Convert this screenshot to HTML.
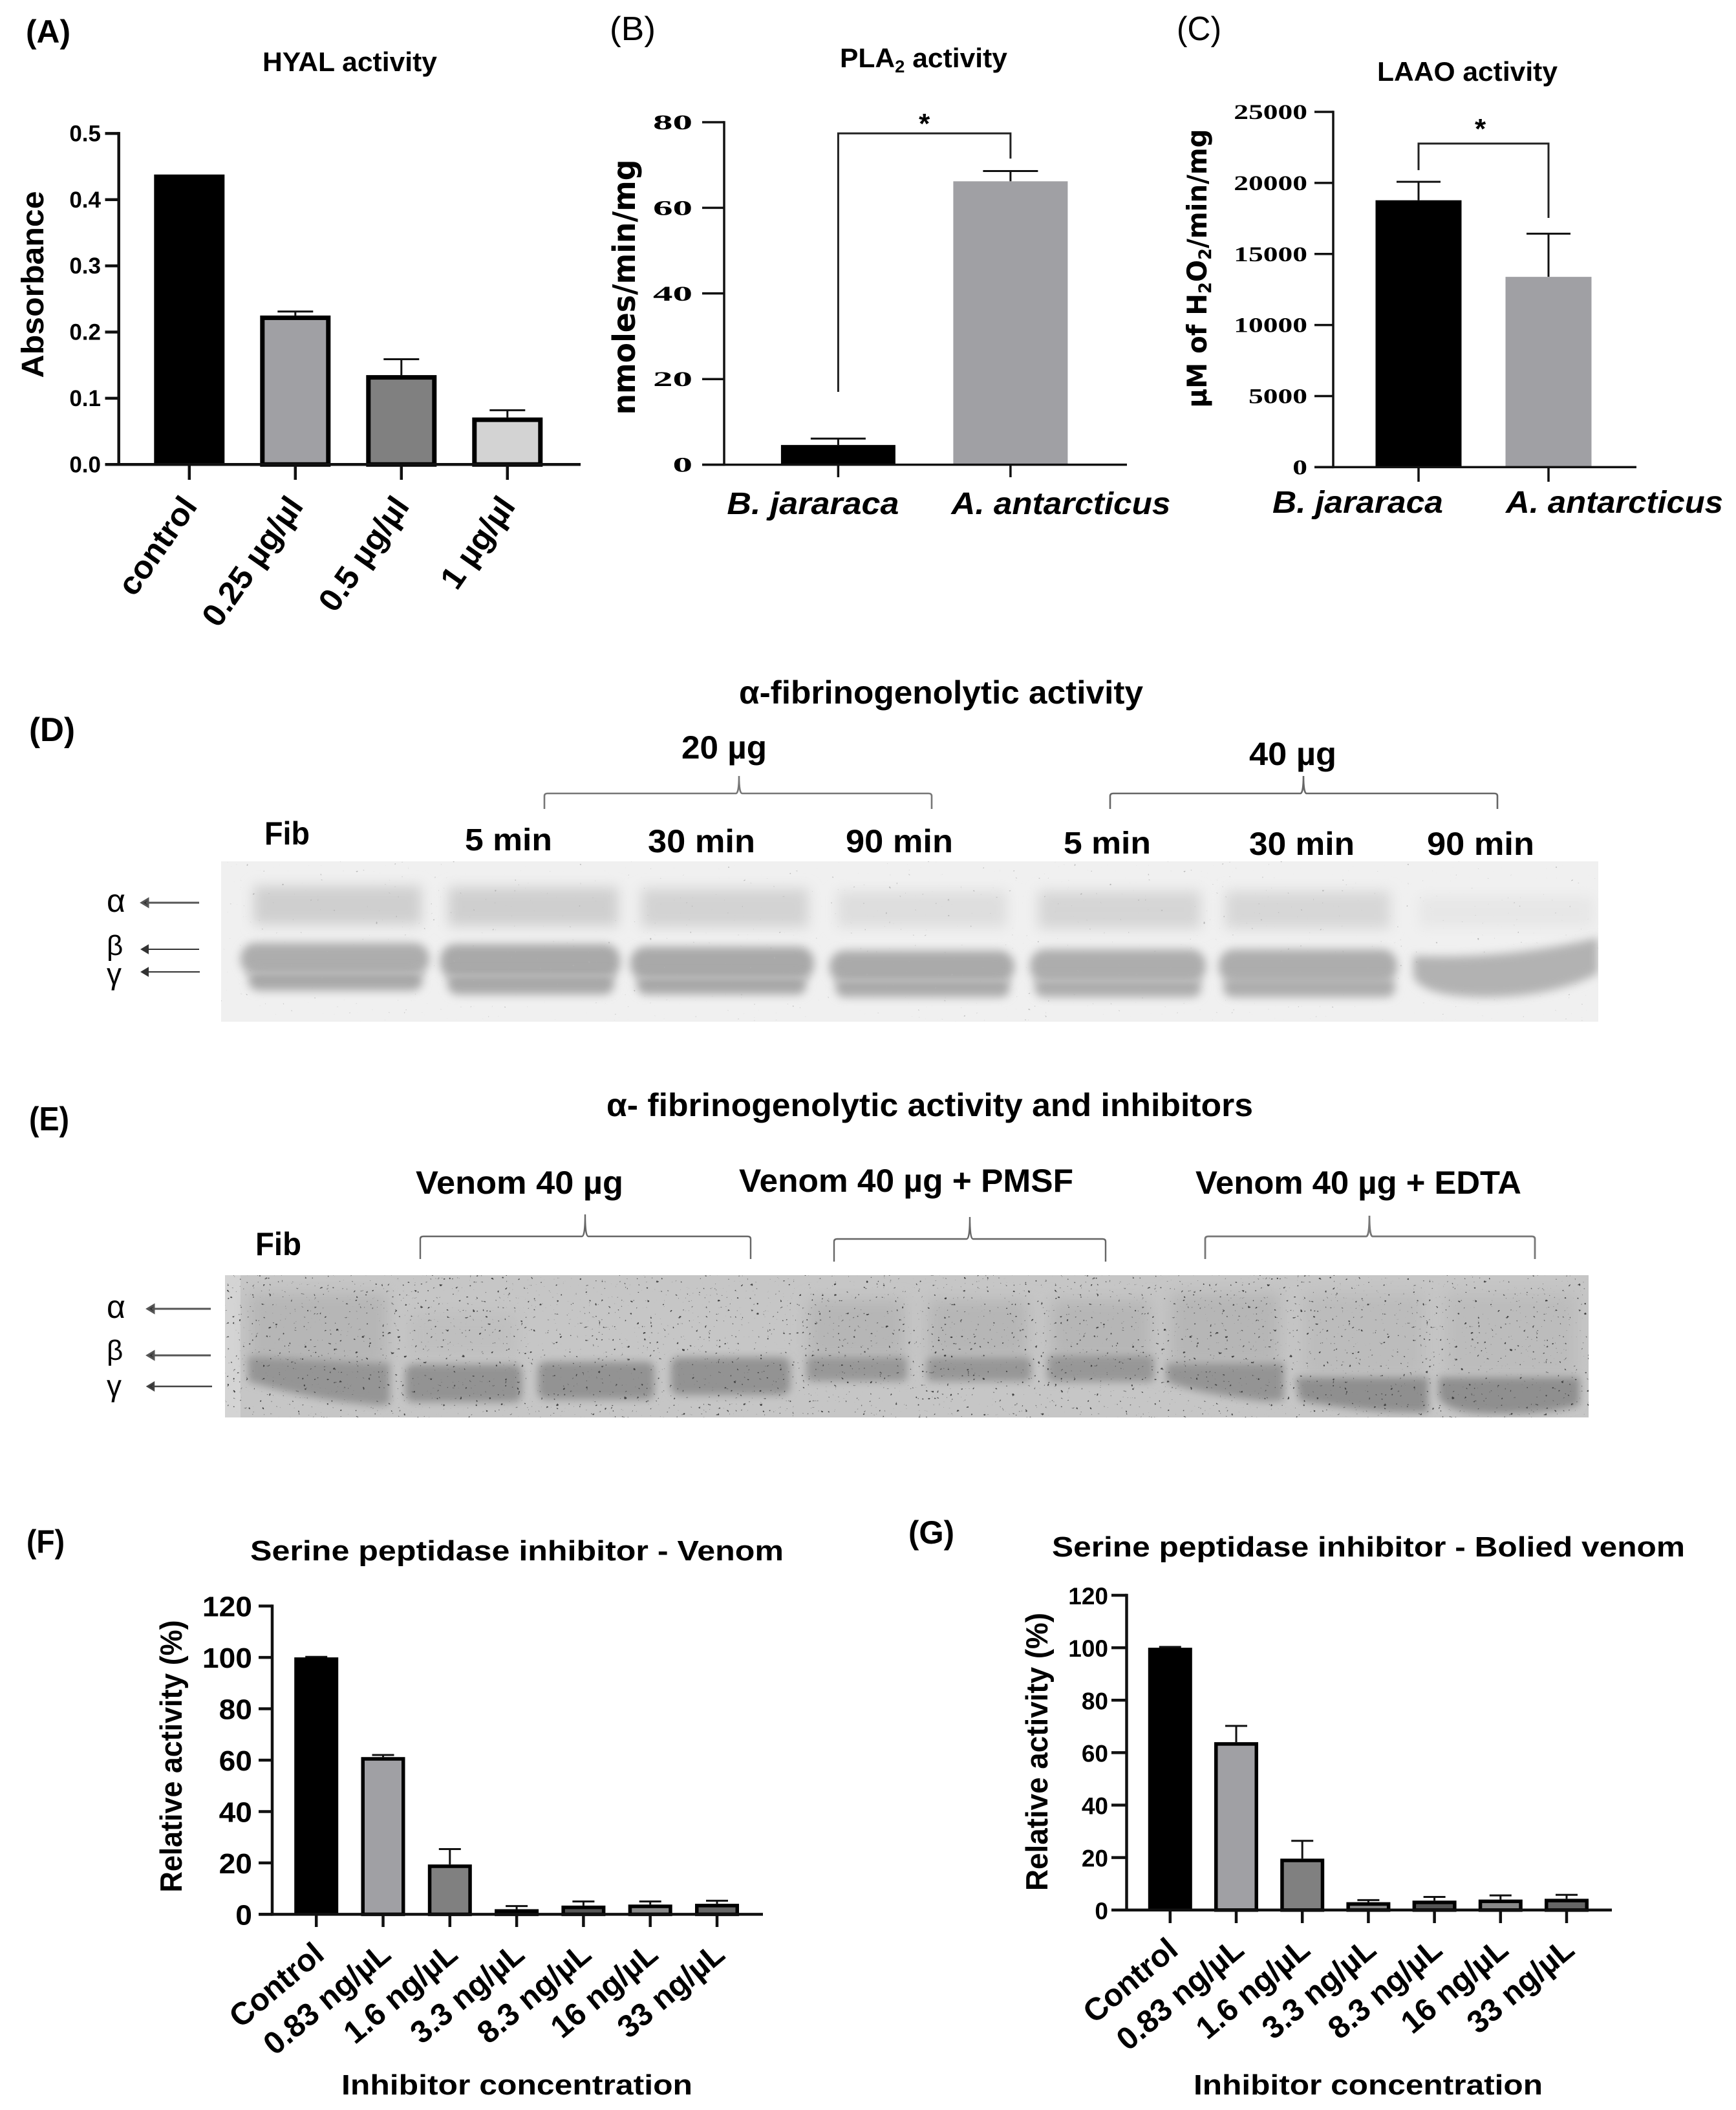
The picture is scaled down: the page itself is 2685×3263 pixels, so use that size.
<!DOCTYPE html>
<html lang="en">
<head>
<meta charset="utf-8">
<title>Venom activity figure</title>
<style>
html,body{margin:0;padding:0;background:#fff;}
svg{display:block;}
text{font-family:"Liberation Sans",sans-serif;fill:#000;}
.b{font-weight:700;}
</style>
</head>
<body>
<svg id="figure" xmlns="http://www.w3.org/2000/svg" width="2685" height="3263" viewBox="0 0 2685 3263">
<defs>
  <filter id="blurDa" filterUnits="userSpaceOnUse" x="300" y="1300" width="2220" height="320"><feGaussianBlur stdDeviation="10"/></filter>
  <filter id="blurD" filterUnits="userSpaceOnUse" x="300" y="1300" width="2220" height="320"><feGaussianBlur stdDeviation="7"/></filter>
  <filter id="blurDs" filterUnits="userSpaceOnUse" x="300" y="1300" width="2220" height="320"><feGaussianBlur stdDeviation="3.5"/></filter>
  <filter id="blurE" filterUnits="userSpaceOnUse" x="300" y="1940" width="2200" height="290"><feGaussianBlur stdDeviation="6"/></filter>
  <filter id="blurEw" filterUnits="userSpaceOnUse" x="300" y="1940" width="2200" height="290"><feGaussianBlur stdDeviation="12"/></filter>
  <filter id="speckle" x="0" y="0" width="100%" height="100%" color-interpolation-filters="sRGB">
    <feTurbulence type="fractalNoise" baseFrequency="0.2" numOctaves="2" seed="11"/>
    <feColorMatrix type="matrix" values="0 0 0 0 0.25  0 0 0 0 0.25  0 0 0 0 0.25  14 0 0 0 -10.2"/>
  </filter>
  <filter id="speckleFaint" x="0" y="0" width="100%" height="100%" color-interpolation-filters="sRGB">
    <feTurbulence type="fractalNoise" baseFrequency="0.2" numOctaves="2" seed="4"/>
    <feColorMatrix type="matrix" values="0 0 0 0 0.7  0 0 0 0 0.7  0 0 0 0 0.7  12 0 0 0 -9.4"/>
  </filter>
  <clipPath id="clipD"><rect x="342" y="1332" width="2130" height="248"/></clipPath>
  <clipPath id="clipE"><rect x="348" y="1972" width="2109" height="220"/></clipPath>
</defs>

<!-- panel letters and titles -->
<text class="b" x="40" y="66" font-size="50" textLength="69" lengthAdjust="spacingAndGlyphs">(A)</text>
<text class="b" x="406" y="110" font-size="42" textLength="270" lengthAdjust="spacingAndGlyphs">HYAL activity</text>
<text class="b" transform="translate(67 440) rotate(-90)" text-anchor="middle" font-size="48" textLength="289" lengthAdjust="spacingAndGlyphs">Absorbance</text>

<text x="943" y="62" font-size="52" textLength="71" lengthAdjust="spacingAndGlyphs">(B)</text>
<text class="b" x="1299" y="104" font-size="42" textLength="259" lengthAdjust="spacingAndGlyphs">PLA<tspan font-size="27" dy="8">2</tspan><tspan dy="-8"> activity</tspan></text>
<text transform="translate(982 444) rotate(-90)" text-anchor="middle" font-size="48" font-weight="700" style="font-family:'DejaVu Sans',sans-serif" textLength="395" lengthAdjust="spacingAndGlyphs">nmoles/min/mg</text>

<text x="1820" y="62" font-size="52" textLength="69" lengthAdjust="spacingAndGlyphs">(C)</text>
<text class="b" x="2130" y="125" font-size="42" textLength="279" lengthAdjust="spacingAndGlyphs">LAAO activity</text>
<text transform="translate(1866 415) rotate(-90)" text-anchor="middle" font-size="42" font-weight="700" style="font-family:'DejaVu Sans',sans-serif" textLength="431" lengthAdjust="spacingAndGlyphs">µM of H<tspan font-size="27" dy="7">2</tspan><tspan dy="-7">O</tspan><tspan font-size="27" dy="7">2</tspan><tspan dy="-7">/min/mg</tspan></text>

<!-- section D text -->
<text class="b" x="1143" y="1088" font-size="50" textLength="625" lengthAdjust="spacingAndGlyphs">α-fibrinogenolytic activity</text>
<text class="b" x="45" y="1146" font-size="52" textLength="71" lengthAdjust="spacingAndGlyphs">(D)</text>
<text class="b" x="1054" y="1173" font-size="50" textLength="132" lengthAdjust="spacingAndGlyphs">20 µg</text>
<text class="b" x="1932" y="1183" font-size="50" textLength="135" lengthAdjust="spacingAndGlyphs">40 µg</text>
<path d="M842 1251 L842 1231 Q842 1227 847 1227 L1138 1227 Q1143 1227 1143 1200 Q1143 1227 1148 1227 L1436 1227 Q1441 1227 1441 1231 L1441 1251" fill="none" stroke="#777" stroke-width="2.6"/>
<path d="M1717 1251 L1717 1231 Q1717 1227 1722 1227 L2011 1227 Q2016 1227 2016 1200 Q2016 1227 2021 1227 L2311 1227 Q2316 1227 2316 1231 L2316 1251" fill="none" stroke="#666" stroke-width="2.6"/>
<text class="b" x="409" y="1306" font-size="50" textLength="70" lengthAdjust="spacingAndGlyphs">Fib</text>
<text class="b" x="719" y="1315" font-size="48" textLength="135" lengthAdjust="spacingAndGlyphs">5 min</text>
<text class="b" x="1002" y="1318" font-size="50" textLength="166" lengthAdjust="spacingAndGlyphs">30 min</text>
<text class="b" x="1308" y="1318" font-size="50" textLength="166" lengthAdjust="spacingAndGlyphs">90 min</text>
<text class="b" x="1645" y="1320" font-size="48" textLength="135" lengthAdjust="spacingAndGlyphs">5 min</text>
<text class="b" x="1932" y="1322" font-size="50" textLength="163" lengthAdjust="spacingAndGlyphs">30 min</text>
<text class="b" x="2207" y="1322" font-size="50" textLength="166" lengthAdjust="spacingAndGlyphs">90 min</text>

<text x="165" y="1410" font-size="50">α</text>
<text x="165" y="1477" font-size="44">β</text>
<text x="165" y="1522" font-size="46">γ</text>
<path d="M308 1396 H226 M219 1396 L229 1390 V1402 Z" stroke="#555" stroke-width="3" fill="#333"/>
<path d="M308 1468 H226 M219 1468 L229 1462 V1474 Z" stroke="#333" stroke-width="2" fill="#333"/>
<path d="M309 1503 H226 M219 1503 L229 1497 V1509 Z" stroke="#333" stroke-width="2" fill="#333"/>

<!-- gel D -->
<g clip-path="url(#clipD)">
  <rect x="342" y="1332" width="2130" height="248" fill="#f0f0f0"/>
  <g filter="url(#blurDa)">
    <rect x="392" y="1370" width="260" height="60" fill="#cfcfcf"/>
    <rect x="693" y="1372" width="263" height="60" fill="#cfcfcf"/>
    <rect x="992" y="1374" width="258" height="60" fill="#d3d3d3"/>
    <rect x="1295" y="1378" width="262" height="56" fill="#dedede"/>
    <rect x="1606" y="1378" width="251" height="58" fill="#d5d5d5"/>
    <rect x="1895" y="1378" width="255" height="58" fill="#d7d7d7"/>
    <rect x="2195" y="1386" width="270" height="48" fill="#e7e7e7"/>
  </g>
  <g filter="url(#blurD)">
    <rect x="372" y="1458" width="292" height="50" rx="24" fill="#adadad"/>
    <rect x="681" y="1460" width="278" height="54" rx="24" fill="#a9a9a9"/>
    <rect x="975" y="1464" width="284" height="52" rx="24" fill="#a9a9a9"/>
    <rect x="1283" y="1470" width="286" height="50" rx="24" fill="#aaaaaa"/>
    <rect x="1593" y="1468" width="272" height="52" rx="24" fill="#adadad"/>
    <rect x="1885" y="1468" width="276" height="52" rx="24" fill="#adadad"/>
  </g>
  <g filter="url(#blurD)">
    <rect x="384" y="1500" width="270" height="32" rx="16" fill="#a9a9a9"/>
    <rect x="692" y="1504" width="258" height="34" rx="16" fill="#a9a9a9"/>
    <rect x="985" y="1508" width="262" height="30" rx="14" fill="#a8a8a8"/>
    <rect x="1292" y="1512" width="270" height="30" rx="14" fill="#aaaaaa"/>
    <rect x="1600" y="1512" width="258" height="30" rx="14" fill="#adadad"/>
    <rect x="1892" y="1512" width="266" height="30" rx="14" fill="#adadad"/>
    <path d="M2186 1478 Q2330 1484 2472 1450 V1505 Q2400 1542 2300 1542 Q2200 1542 2186 1510 Z" fill="#b2b2b2"/>
  </g>
  <g filter="url(#blurDs)" fill="#c2c2c2" opacity="0.55">
    <rect x="378" y="1503" width="280" height="4"/>
    <rect x="690" y="1507" width="262" height="4"/>
    <rect x="985" y="1510" width="268" height="4"/>
    <rect x="1293" y="1514" width="270" height="4"/>
    <rect x="1600" y="1515" width="258" height="4"/>
  </g>
  <rect x="342" y="1332" width="2130" height="248" filter="url(#speckleFaint)"/>
</g>

<!-- section E text -->
<text class="b" x="938" y="1726" font-size="50" textLength="1000" lengthAdjust="spacingAndGlyphs">α- fibrinogenolytic activity and inhibitors</text>
<text class="b" x="45" y="1748" font-size="52" textLength="62" lengthAdjust="spacingAndGlyphs">(E)</text>
<text class="b" x="643" y="1846" font-size="50" textLength="321" lengthAdjust="spacingAndGlyphs">Venom 40 µg</text>
<text class="b" x="1143" y="1843" font-size="50" textLength="517" lengthAdjust="spacingAndGlyphs">Venom 40 µg + PMSF</text>
<text class="b" x="1849" y="1846" font-size="50" textLength="504" lengthAdjust="spacingAndGlyphs">Venom 40 µg + EDTA</text>
<text class="b" x="395" y="1941" font-size="50" textLength="71" lengthAdjust="spacingAndGlyphs">Fib</text>
<path d="M650 1947 L650 1916 Q650 1912 655 1912 L900 1912 Q905 1912 905 1878 Q905 1912 910 1912 L1156 1912 Q1161 1912 1161 1916 L1161 1947" fill="none" stroke="#666" stroke-width="2.4"/>
<path d="M1290 1951 L1290 1920 Q1290 1916 1295 1916 L1495 1916 Q1500 1916 1500 1882 Q1500 1916 1505 1916 L1705 1916 Q1710 1916 1710 1920 L1710 1951" fill="none" stroke="#666" stroke-width="2.4"/>
<path d="M1864 1947 L1864 1916 Q1864 1912 1869 1912 L2113 1912 Q2118 1912 2118 1880 Q2118 1912 2123 1912 L2369 1912 Q2374 1912 2374 1916 L2374 1947" fill="none" stroke="#777" stroke-width="2.8"/>
<text x="165" y="2038" font-size="50">α</text>
<text x="165" y="2103" font-size="44">β</text>
<text x="165" y="2159" font-size="46">γ</text>
<path d="M326 2024 H235 M228 2024 L238 2018 V2030 Z" stroke="#555" stroke-width="3" fill="#333"/>
<path d="M326 2096 H235 M228 2096 L238 2090 V2102 Z" stroke="#555" stroke-width="3" fill="#333"/>
<path d="M328 2144 H235 M228 2144 L238 2138 V2150 Z" stroke="#444" stroke-width="2.4" fill="#333"/>

<!-- gel E -->
<g clip-path="url(#clipE)">
  <rect x="348" y="1972" width="2109" height="220" fill="#c6c6c6"/>
  <rect x="348" y="1972" width="24" height="220" fill="#d4d4d4"/>
  <g filter="url(#blurEw)" fill="#b6b6b6">
    <rect x="385" y="2000" width="215" height="110"/>
    <rect x="630" y="2030" width="170" height="70" fill="#bfbfbf"/>
    <rect x="1250" y="2010" width="150" height="90"/>
    <rect x="1435" y="2010" width="155" height="90"/>
    <rect x="1625" y="2010" width="155" height="90"/>
    <rect x="1810" y="2000" width="170" height="110"/>
    <rect x="2015" y="2000" width="190" height="130" fill="#bcbcbc"/>
    <rect x="2235" y="2000" width="205" height="130" fill="#bcbcbc"/>
  </g>
  <g filter="url(#blurE)">
    <path d="M384 2098 L603 2108 L603 2168 Q600 2176 570 2172 Q480 2165 384 2136 Z" fill="#959595"/>
    <rect x="627" y="2110" width="180" height="58" rx="12" fill="#939393"/>
    <rect x="832" y="2106" width="180" height="58" rx="12" fill="#939393"/>
    <rect x="1038" y="2099" width="184" height="58" rx="12" fill="#939393"/>
    <rect x="1247" y="2098" width="156" height="38" rx="8" fill="#989898"/>
    <rect x="1433" y="2099" width="162" height="37" rx="8" fill="#979797"/>
    <rect x="1620" y="2096" width="165" height="41" rx="8" fill="#979797"/>
    <path d="M1804 2108 H1986 V2164 Q1970 2170 1930 2164 Q1840 2152 1804 2136 Z" fill="#949494"/>
    <path d="M2004 2130 H2209 V2184 Q2120 2186 2010 2166 Z" fill="#8f8f8f"/>
    <path d="M2225 2130 H2443 V2172 Q2400 2188 2300 2186 Q2235 2184 2225 2160 Z" fill="#8f8f8f"/>
  </g>
  <rect x="348" y="1972" width="2109" height="220" filter="url(#speckle)"/>
</g>

<!-- F and G text -->
<text class="b" x="41" y="2401" font-size="50" textLength="59" lengthAdjust="spacingAndGlyphs">(F)</text>
<text class="b" x="387" y="2413" font-size="44" textLength="825" lengthAdjust="spacingAndGlyphs">Serine peptidase inhibitor - Venom</text>
<text class="b" transform="translate(281 2716) rotate(-90)" text-anchor="middle" font-size="47" textLength="421" lengthAdjust="spacingAndGlyphs">Relative activity (%)</text>
<text class="b" x="528" y="3239" font-size="44" textLength="543" lengthAdjust="spacingAndGlyphs">Inhibitor concentration</text>
<text class="b" x="1405" y="2387" font-size="50" textLength="71" lengthAdjust="spacingAndGlyphs">(G)</text>
<text class="b" x="1627" y="2407" font-size="44" textLength="979" lengthAdjust="spacingAndGlyphs">Serine peptidase inhibitor - Bolied venom</text>
<text class="b" transform="translate(1620 2709) rotate(-90)" text-anchor="middle" font-size="47" textLength="430" lengthAdjust="spacingAndGlyphs">Relative activity (%)</text>
<text class="b" x="1846" y="3239" font-size="44" textLength="540" lengthAdjust="spacingAndGlyphs">Inhibitor concentration</text>

<g id="charts"></g>
</svg>

<script>
const hyalCategories = ['control', '0.25 µg/µl', '0.5 µg/µl', '1 µg/µl'];
const hyalValues = [0.438, 0.225, 0.135, 0.071];
const hyalErrors = [0.438, 0.231, 0.159, 0.082];
const hyalTicks = [0, 0.1, 0.2, 0.3, 0.4, 0.5];
const hyalTickLabels = ['0.0', '0.1', '0.2', '0.3', '0.4', '0.5'];

const plaCategories = ['B. jararaca', 'A. antarcticus'];
const plaValues = [4.6, 66.2];
const plaErrors = [6.1, 68.6];
const plaTicks = [0, 20, 40, 60, 80];
const plaTickLabels = ['0', '20', '40', '60', '80'];
const plaBracket = [17, 77.4, 71.5];

const laaoCategories = ['B. jararaca', 'A. antarcticus'];
const laaoValues = [18780, 13390];
const laaoErrors = [20080, 16430];
const laaoTicks = [0, 5000, 10000, 15000, 20000, 25000];
const laaoTickLabels = ['0', '5000', '10000', '15000', '20000', '25000'];
const laaoBracket = [20900, 22770, 17540];

const venomCategories = ['Control', '0.83 ng/µL', '1.6 ng/µL', '3.3 ng/µL', '8.3 ng/µL', '16 ng/µL', '33 ng/µL'];
const venomValues = [100, 61.2, 19.4, 2, 3.4, 3.8, 4.1];
const venomErrors = [100.2, 62, 25.4, 3.2, 5, 5, 5.3];
const venomTicks = [0, 20, 40, 60, 80, 100, 120];
const venomTickLabels = ['0', '20', '40', '60', '80', '100', '120'];

const boiledCategories = ['Control', '0.83 ng/µL', '1.6 ng/µL', '3.3 ng/µL', '8.3 ng/µL', '16 ng/µL', '33 ng/µL'];
const boiledValues = [100, 64, 19.6, 3, 3.6, 4, 4.3];
const boiledErrors = [100.3, 70.2, 26.4, 3.8, 5, 5.6, 5.8];
const boiledTicks = [0, 20, 40, 60, 80, 100, 120];
const boiledTickLabels = ['0', '20', '40', '60', '80', '100', '120'];

const SVG_NS = 'http://www.w3.org/2000/svg';
const chartsRoot = document.getElementById('charts');

function mk(tag, attrs, parent) {
  const el = document.createElementNS(SVG_NS, tag);
  for (const k in attrs) el.setAttribute(k, attrs[k]);
  parent.appendChild(el);
  return el;
}

function slug(s) {
  return String(s).toLowerCase().replace(/µ/g, 'u').replace(/[^a-z0-9]+/g, '-').replace(/^-|-$/g, '');
}

function drawChart(c) {
  const g = mk('g', {}, chartsRoot);
  
  

  const yScale = v => c.y0 - (v / c.yMax) * (c.y0 - c.yTop);
  const xScale = i => c.first + i * c.step;

  c.errors.forEach((e, i) => {
    if (e <= c.values[i]) return;
    const stem = mk('line', {x1: xScale(i), x2: xScale(i), y1: yScale(c.values[i]), y2: yScale(e), stroke: '#111', 'stroke-width': c.errW}, g);
    
    
    const cap = mk('line', {x1: xScale(i) - c.capW / 2, x2: xScale(i) + c.capW / 2, y1: yScale(e), y2: yScale(e), stroke: '#111', 'stroke-width': c.errW}, g);
    
    
  });

  c.values.forEach((v, i) => {
    const sw = c.fills[i] === '#000' ? 0 : c.sw;
    const top = yScale(v);
    const h = Math.max(c.y0 - top - sw / 2, 1);
    const bar = mk('rect', {x: xScale(i) - c.barW / 2 + sw / 2, y: top + sw / 2, width: c.barW - sw, height: h, fill: c.fills[i], stroke: sw ? '#000' : 'none', 'stroke-width': sw}, g);
    
    
  });

  const yAxis = mk('line', {x1: c.ax, x2: c.ax, y1: c.yTop - c.axisW / 2, y2: c.y0 + c.axisW / 2, stroke: '#111', 'stroke-width': c.axisW}, g);
  
  
  const xAxis = mk('line', {x1: c.tickLeft, x2: c.axisEnd, y1: c.y0, y2: c.y0, stroke: '#111', 'stroke-width': c.axisW}, g);
  
  

  c.ticks.forEach((t, i) => {
    const tick = mk('line', {x1: c.tickLeft, x2: c.ax, y1: yScale(t), y2: yScale(t), stroke: '#111', 'stroke-width': c.axisW}, g);
    
    
    const lab = mk('text', {transform: 'translate(' + c.tickRight + ' ' + (yScale(t) + c.tickDy) + ') scale(' + c.tickSx + ' 1)', 'text-anchor': 'end', 'font-size': c.tickSize, 'font-weight': 700, style: 'font-family:' + c.tickFont}, g);
    lab.textContent = c.tickLabels[i];
    
    
  });

  c.cats.forEach((cat, i) => {
    const tick = mk('line', {x1: xScale(i), x2: xScale(i), y1: c.y0, y2: c.tickBottom, stroke: '#111', 'stroke-width': c.axisW}, g);
    
    
    let attrs;
    if (c.labelAngle) {
      attrs = {transform: 'translate(' + (xScale(i) + c.labelDx) + ' ' + c.labelY + ') rotate(' + c.labelAngle + ') scale(' + c.labelSx + ' 1)', 'text-anchor': 'end', 'font-size': c.labelSize, 'font-weight': 700};
    } else {
      attrs = {x: xScale(i) + c.labelOffsets[i], y: c.labelY, 'text-anchor': 'middle', 'font-size': c.labelSize, 'font-weight': 700, 'font-style': 'italic', textLength: c.labelWidths[i], lengthAdjust: 'spacingAndGlyphs'};
    }
    const lab = mk('text', attrs, g);
    lab.textContent = cat;
    
    
  });

  if (c.bracket) {
    const [leftEnd, topVal, rightEnd] = c.bracket;
    const d = 'M' + xScale(0) + ' ' + yScale(leftEnd) + ' V' + yScale(topVal) + ' H' + xScale(1) + ' V' + yScale(rightEnd);
    const br = mk('path', {d: d, fill: 'none', stroke: '#222', 'stroke-width': 3}, g);
    
    
    const star = mk('text', {x: (xScale(0) + xScale(1)) / 2 + c.starDx, y: yScale(topVal) + c.starDy, 'text-anchor': 'middle', 'font-size': 44, 'font-weight': 700}, g);
    star.textContent = '*';
    
    
  }
}

const SERIF = '"Liberation Serif",serif';
const SANS = '"Liberation Sans",sans-serif';

drawChart({id: 'hyal', cats: hyalCategories, values: hyalValues, errors: hyalErrors, ticks: hyalTicks, tickLabels: hyalTickLabels,
  ax: 183.7, y0: 718.3, yTop: 206.4, yMax: 0.5, first: 292.8, step: 164, tickLeft: 162.5, axisEnd: 898, tickBottom: 742,
  barW: 109, sw: 7, capW: 55, errW: 3, axisW: 4.5, fills: ['#000', '#a0a0a4', '#808080', '#d3d3d3'],
  tickRight: 156, tickDy: 12, tickSize: 35, tickSx: 1, tickFont: SANS,
  labelAngle: -55, labelDx: 14, labelY: 783, labelSize: 50, labelSx: 1.02});

drawChart({id: 'pla2', cats: plaCategories, values: plaValues, errors: plaErrors, ticks: plaTicks, tickLabels: plaTickLabels,
  ax: 1120, y0: 718.6, yTop: 189, yMax: 80, first: 1296.4, step: 266.5, tickLeft: 1086, axisEnd: 1743, tickBottom: 738,
  barW: 177, sw: 0, capW: 85, errW: 3, axisW: 3.5, fills: ['#000', '#a0a0a4'],
  tickRight: 1071, tickDy: 11, tickSize: 33, tickSx: 1.85, tickFont: SERIF,
  labelOffsets: [-39, 78], labelWidths: [266, 339], labelY: 795, labelSize: 48,
  bracket: plaBracket, starDx: 0, starDy: 0});

drawChart({id: 'laao', cats: laaoCategories, values: laaoValues, errors: laaoErrors, ticks: laaoTicks, tickLabels: laaoTickLabels,
  ax: 2062, y0: 722.4, yTop: 173, yMax: 25000, first: 2194, step: 201, tickLeft: 2033, axisEnd: 2531, tickBottom: 745,
  barW: 133, sw: 0, capW: 68, errW: 3, axisW: 3.5, fills: ['#000', '#a0a0a4'],
  tickRight: 2022, tickDy: 11, tickSize: 33, tickSx: 1.38, tickFont: SERIF,
  labelOffsets: [-94, 102], labelWidths: [264, 336], labelY: 793, labelSize: 48,
  bracket: laaoBracket, starDx: -5, starDy: -8});

drawChart({id: 'venom', cats: venomCategories, values: venomValues, errors: venomErrors, ticks: venomTicks, tickLabels: venomTickLabels,
  ax: 421, y0: 2960.4, yTop: 2483.6, yMax: 120, first: 489.2, step: 103.3, tickLeft: 400, axisEnd: 1180, tickBottom: 2980,
  barW: 68, sw: 5.5, capW: 34, errW: 3, axisW: 4.5, fills: ['#000', '#a0a0a4', '#808080', '#3a3a3a', '#555', '#8a8a8a', '#666'],
  tickRight: 390, tickDy: 16, tickSize: 44, tickSx: 1.05, tickFont: SANS,
  labelAngle: -40, labelDx: 15, labelY: 3027, labelSize: 49, labelSx: 0.99});

drawChart({id: 'boiled', cats: boiledCategories, values: boiledValues, errors: boiledErrors, ticks: boiledTicks, tickLabels: boiledTickLabels,
  ax: 1742.5, y0: 2953.8, yTop: 2467, yMax: 120, first: 1809.8, step: 102.2, tickLeft: 1719, axisEnd: 2493, tickBottom: 2974,
  barW: 68, sw: 5.5, capW: 34, errW: 3, axisW: 4.5, fills: ['#000', '#a0a0a4', '#808080', '#8a8a8a', '#555', '#8a8a8a', '#666'],
  tickRight: 1714, tickDy: 14, tickSize: 37, tickSx: 1, tickFont: SANS,
  labelAngle: -40, labelDx: 15, labelY: 3020, labelSize: 49, labelSx: 0.99});
</script>
</body>
</html>
